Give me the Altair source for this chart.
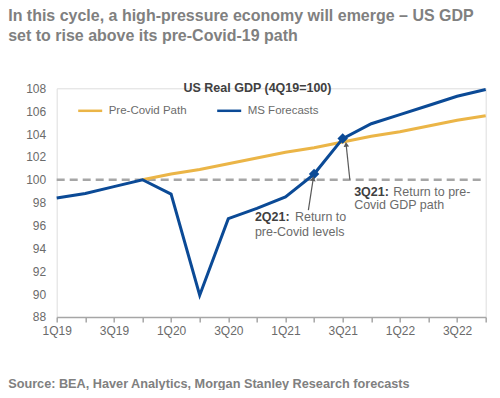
import json
import altair as alt
import pandas as pd

FONT = "Liberation Sans"

quarters = ["1Q19", "2Q19", "3Q19", "4Q19", "1Q20", "2Q20", "3Q20", "4Q20",
            "1Q21", "2Q21", "3Q21", "4Q21", "1Q22", "2Q22", "3Q22", "4Q22"]
ms_forecasts = [98.4, 98.8, 99.4, 100.0, 98.75, 89.9, 96.6, 97.5,
                98.5, 100.5, 103.6, 104.9, 105.7, 106.5, 107.3, 107.9]
pre_covid_path = [None, None, None, 100.0, 100.5, 100.9, 101.4, 101.9,
                  102.4, 102.8, 103.3, 103.8, 104.2, 104.7, 105.2, 105.6]
series_names = ["Pre-Covid Path", "MS Forecasts"]
series_colors = ["#EBB547", "#0B4A96"]
baseline_value = 100
marker_quarters = ["2Q21", "3Q21"]
y_ticks = [88, 90, 92, 94, 96, 98, 100, 102, 104, 106, 108]

# annotation arrows (x in quarter index units, y in index value)
arrow_x = [8.97, 10.12]
arrow_y = [100.1, 103.1]
arrow_x2 = [8.80, 10.25]
arrow_y2 = [97.35, 100.0]
arrow_angle = [9, 354]

# annotation text pieces
ann_x = [6.93, 8.33, 6.93, 10.40, 11.77, 10.40]
ann_y = [96.77, 96.77, 95.46, 98.96, 98.96, 97.80]
ann_text = ["2Q21:", "Return to", "pre-Covid levels", "3Q21:", "Return to pre-", "Covid GDP path"]
ann_bold = [True, False, False, True, False, False]

title_lines = ["In this cycle, a high-pressure economy will emerge \u2013 US GDP",
               "set to rise above its pre-Covid-19 path"]
chart_label = "US Real GDP (4Q19=100)"
source_text = "Source: BEA, Haver Analytics, Morgan Stanley Research forecasts"

rows = []
for i, q in enumerate(quarters):
    if pre_covid_path[i] is not None:
        rows.append({"i": i, "q": q, "series": series_names[0], "v": pre_covid_path[i]})
for i, q in enumerate(quarters):
    rows.append({"i": i, "q": q, "series": series_names[1], "v": ms_forecasts[i]})
df = pd.DataFrame(rows)

markers = pd.DataFrame([{"i": quarters.index(q), "v": ms_forecasts[quarters.index(q)]}
                        for q in marker_quarters])
base_df = pd.DataFrame({"i": [0], "i2": [len(quarters) - 1], "v": [baseline_value]})
arrows = pd.DataFrame({"i": arrow_x, "v": arrow_y, "x2": arrow_x2, "y2": arrow_y2,
                       "a": arrow_angle})
ann = pd.DataFrame({"i": ann_x, "v": ann_y, "t": ann_text, "b": ann_bold})

label_expr = "datum.value % 2 == 0 ? " + json.dumps(quarters) + "[datum.value] : ''"

xscale = alt.Scale(domain=[0, len(quarters) - 1], nice=False, zero=False)
yscale = alt.Scale(domain=[88, 108], nice=False, zero=False)

X = alt.X("i:Q", scale=xscale, axis=alt.Axis(
    values=list(range(len(quarters))), labelExpr=label_expr, title=None, grid=False,
    domainColor="#A6A6A6", domainWidth=1.5, tickColor="#A6A6A6", tickWidth=1.5,
    tickSize=5, labelPadding=4, labelFontSize=12, labelColor="#6b6b6b",
    labelFont=FONT, labelFlush=False, labelOverlap=False))
Y = alt.Y("v:Q", scale=yscale, axis=alt.Axis(
    values=y_ticks, title=None, grid=False, domain=False, ticks=False,
    labelPadding=11, labelFontSize=12, labelColor="#6b6b6b", labelFont=FONT,
    labelOverlap=False, labelFlush=False))

dashed = alt.Chart(base_df).mark_rule(color="#A6A6A6", strokeWidth=2.5, strokeDash=[8, 5]).encode(
    x=X, x2="i2:Q", y=Y)

lines = alt.Chart(df).mark_line(strokeWidth=3).encode(
    x=X, y=Y,
    color=alt.Color("series:N", sort=series_names,
                    scale=alt.Scale(domain=series_names, range=series_colors),
                    legend=alt.Legend(orient="none", direction="horizontal", legendX=20, legendY=9,
                                      title=None, symbolType="stroke", symbolSize=576,
                                      symbolStrokeWidth=2.5, labelFontSize=11.5,
                                      labelColor="#6b6b6b", labelFont=FONT, labelOffset=5,
                                      columnPadding=25)),
    order=alt.Order("series:N", sort="descending"))

marks = alt.Chart(markers).mark_point(shape="diamond", filled=True, size=110, opacity=1,
                                       color="#0B4A96").encode(x=X, y=Y)

arrow_lines = alt.Chart(arrows).mark_rule(color="#595959", strokeWidth=1.2).encode(
    x=X, y=Y, x2="x2:Q", y2="y2:Q")
arrow_heads = alt.Chart(arrows).mark_point(shape="triangle-up", filled=True, size=30,
                                            color="#595959", opacity=1).encode(
    x=X, y=Y, angle=alt.Angle("a:Q", scale=None))

ann_bold_chart = alt.Chart(ann[ann["b"]]).mark_text(
    align="left", baseline="middle", fontSize=12.5, fontWeight="bold", color="#404040", font=FONT).encode(
    x=X, y=Y, text="t:N")
ann_norm_chart = alt.Chart(ann[~ann["b"]]).mark_text(
    align="left", baseline="middle", fontSize=12.5, color="#6b6b6b", font=FONT).encode(
    x=X, y=Y, text="t:N")

label_chart = alt.Chart(pd.DataFrame({"t": [chart_label]})).mark_text(
    align="center", baseline="middle", fontSize=12.5, fontWeight="bold", color="#404040", font=FONT).encode(
    x=alt.value(200.8), y=alt.value(0), text="t:N")

source_chart = alt.Chart(pd.DataFrame({"t": [source_text]})).mark_text(
    align="left", baseline="middle", fontSize=12.7, fontWeight="bold", color="#808080", font=FONT).encode(
    x=alt.value(-48.5), y=alt.value(295.5), text="t:N")

chart = alt.layer(dashed, lines, marks, arrow_lines, arrow_heads, ann_bold_chart, ann_norm_chart,
                  label_chart, source_chart).properties(
    width=429, height=228.7,
    autosize=alt.AutoSizeParams(type="none"),
    padding={"left": 48.7, "top": 80.3, "right": 6, "bottom": 73},
    title=alt.TitleParams(text=title_lines, anchor="start", dx=-48.5, offset=38,
                          fontSize=16.0, fontWeight="bold", color="#808080", font=FONT,
                          lineHeight=20.5, frame="group"),
).configure_view(stroke=None).configure_axis(labelOverlap=False).configure(background="white")

chart.save("out.html", embed_options={"renderer": "svg", "actions": False})
